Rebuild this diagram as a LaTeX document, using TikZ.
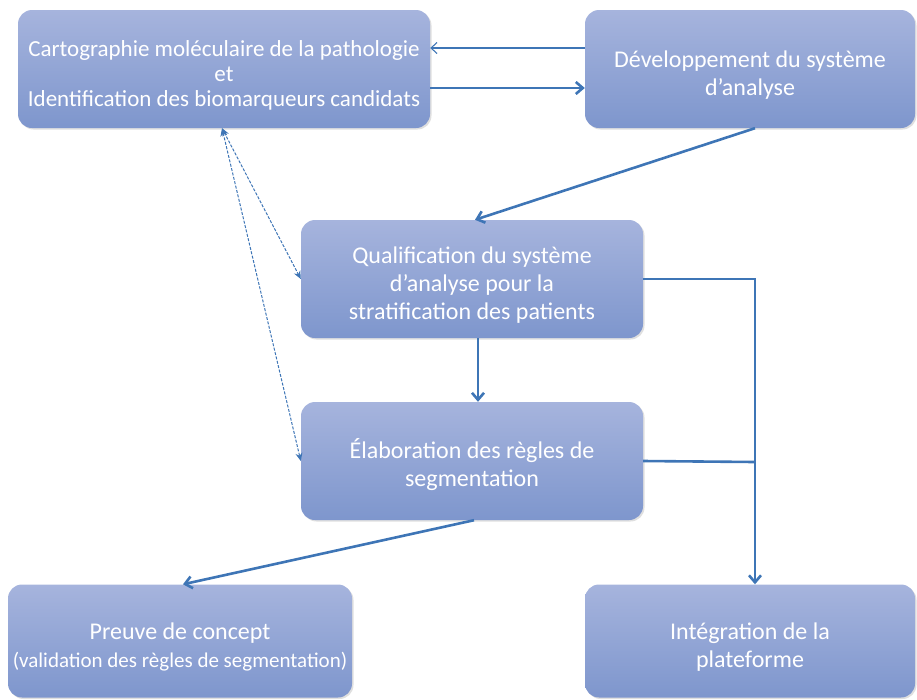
\documentclass[tikz,border=0pt]{standalone}
\usepackage{fontspec}
\setmainfont{Carlito}
\usepackage{tikz}
\usetikzlibrary{arrows.meta, positioning, shadows}
\definecolor{boxtop}{RGB}{166, 180, 221}
\definecolor{boxbottom}{RGB}{126, 150, 205}
\definecolor{linkblue}{RGB}{62, 117, 182}
\newcommand{\stagelift}{\rule{0pt}{28pt}}

\tikzset{
  stage/.style={rounded corners=14pt, top color=boxtop, bottom color=boxbottom,
    draw=none, text=white, align=center, font=\fontsize{24}{28}\selectfont,
    inner sep=0pt, drop shadow={shadow xshift=1.5pt, shadow yshift=-1.5pt, opacity=0.25}},
  link/.style={draw=linkblue, line width=2.6pt, -{Straight Barb[length=7pt, width=12pt, line width=2.6pt]}},
  thinlink/.style={draw=linkblue, line width=1.1pt, -{Straight Barb[length=6pt, width=11pt]}},
  dashlink/.style={draw=linkblue, line width=1pt, dashed, dash pattern=on 3pt off 1.5pt,
    {Stealth[length=8pt, width=7pt]}-{Stealth[length=8pt, width=7pt]}}
}

\begin{document}
\begin{tikzpicture}[x=1pt, y=-1pt]
  \useasboundingbox (0,0) rectangle (917,699);

  % Stages
  \node[stage, minimum width=412pt, minimum height=118pt, font=\fontsize{23}{25}\selectfont] (carto) at (224,69)
    {\stagelift Cartographie moléculaire de la pathologie\\et\\Identification des biomarqueurs candidats};
  \node[stage, minimum width=330pt, minimum height=118pt] (dev) at (750,69)
    {\stagelift Développement du système\\d’analyse};
  \node[stage, minimum width=342pt, minimum height=118pt] (qualif) at (472,279)
    {\stagelift Qualification du système\\d’analyse pour la\\stratification des patients};
  \node[stage, minimum width=342pt, minimum height=118pt] (regles) at (472,461)
    {\stagelift Élaboration des règles de\\segmentation};
  \node[stage, minimum width=344pt, minimum height=113pt] (preuve) at (180,641)
    {\stagelift Preuve de concept\\{\fontsize{21}{29}\selectfont (validation des règles de segmentation)}};
  \node[stage, minimum width=330pt, minimum height=113pt] (integ) at (750,641)
    {\stagelift Intégration de la\\plateforme};

  % Links between the top stages
  \draw[thinlink] (dev.west |- 0,48) -- (carto.east |- 0,48);
  \draw[link] (carto.east |- 0,88) -- (dev.west |- 0,88);
  \draw[link] (dev.south -| 755,0) -- (qualif.north -| 475,0);

  % Dashed feedback links
  \coordinate (cartofoot) at (carto.south -| 222,0);
  \draw[dashlink] (cartofoot) -- (qualif.west);
  \draw[dashlink] (cartofoot) -- (regles.west);

  % Downward flow
  \draw[link] (qualif.south -| 478,0) -- (regles.north -| 478,0);
  \coordinate (junction) at (755,462);
  \draw[link] (qualif.east) -| (integ.north -| 755,0);
  \draw[draw=linkblue, line width=2.6pt] (regles.east) -- (junction);
  \draw[link] (regles.south -| 474,0) -- (preuve.north -| 183,0);
\end{tikzpicture}
\end{document}
